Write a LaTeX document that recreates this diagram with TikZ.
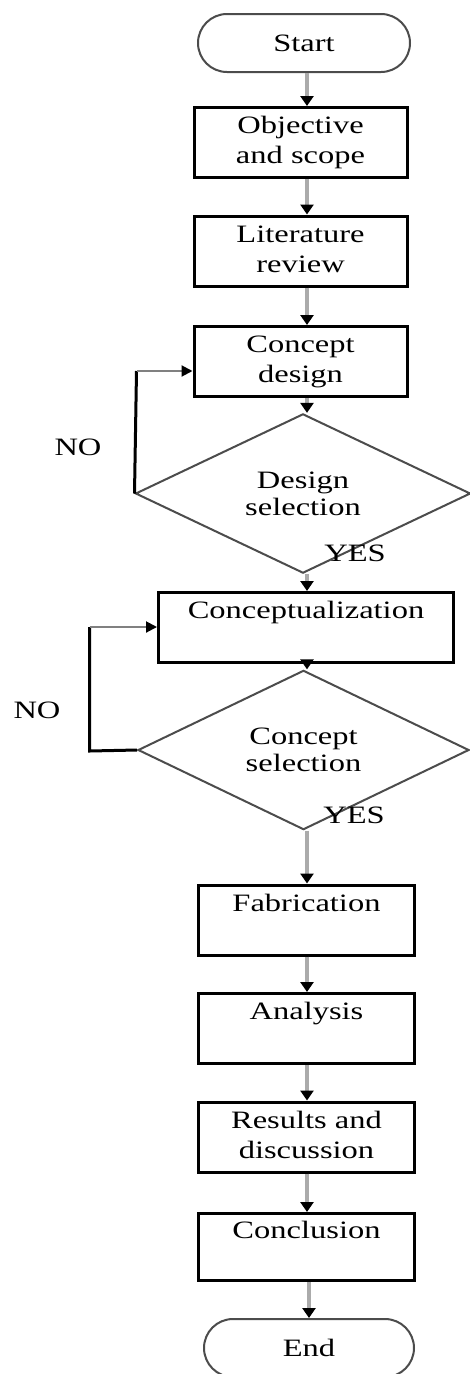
\documentclass[tikz,border=0pt]{standalone}
\usepackage{fontspec}
\setmainfont{Liberation Serif}[FakeStretch=1.3]
\usetikzlibrary{shapes.geometric,arrows.meta}
\tikzset{
  txt/.style={font=\fontsize{25}{30}\selectfont, text=black, inner sep=0pt, align=center},
  stepbox/.style={txt, draw=black, line width=3pt, rectangle, minimum width=213pt, minimum height=70pt},
  term/.style={txt, draw=black!70, line width=2pt, rectangle, rounded corners=29pt, minimum width=212pt, minimum height=58pt},
  decide/.style={txt, font=\fontsize{25}{27}\selectfont, draw=black!70, line width=2pt, diamond, minimum width=335pt, minimum height=117pt},
  flow/.style={draw=black!33, line width=3.5pt, -{Triangle[width=13pt,length=10pt,color=black]}},
  loopv/.style={draw=black, line width=3pt},
  looph/.style={draw=black!50, line width=2pt, -{Triangle[width=11pt,length=11pt,color=black]}},
  lbl/.style={font=\fontsize{25}{30}\selectfont, text=black, inner sep=0pt}
}
\begin{document}
\begin{tikzpicture}[x=1pt,y=-1pt]
\clip (0,0) rectangle (470,1374);
\fill[white] (0,0) rectangle (470,1374);
\coordinate (spine) at (307,0);
\node[term] (start) at (304,43) {Start};
\node[stepbox] (obj) at (300.5,142.5) {\strut Objective\\\strut and scope};
\node[stepbox] (lit) at (300.5,251) {\strut Literature\\\strut review};
\node[stepbox] (cd) at (300.5,361.5) {\strut Concept\\\strut design};
\node[decide] (d1) at (303,493.5) {Design\\selection};
\node[stepbox, minimum width=295pt] (cz) at (306,627.5) {\strut Conceptualization\\\strut};
\node[decide, minimum width=331pt, minimum height=116pt] (d2) at (303.5,750) {Concept\\selection};
\node[stepbox, minimum width=216pt] (fab) at (306.5,920) {\strut Fabrication\\\strut};
\node[stepbox, minimum width=216pt] (ana) at (306.5,1028.5) {\strut Analysis\\\strut};
\node[stepbox, minimum width=216pt] (res) at (306.5,1137) {\strut Results and\\\strut discussion};
\node[stepbox, minimum width=216pt, minimum height=67pt] (con) at (306.5,1247) {\strut Conclusion\\\strut};
\node[term, minimum width=210pt] (end) at (309,1348) {End};

\node[lbl] (no1) at (78,447) {NO};
\node[lbl] (no2) at (37,710) {NO};
\node[lbl] (yes1) at (355,553) {YES};
\node[lbl] (yes2) at (354,815) {YES};

\draw[flow] (start.south -| spine) -- (obj.north -| spine);
\draw[flow] (obj.south -| spine) -- (lit.north -| spine);
\draw[flow] (lit.south -| spine) -- (cd.north -| spine);
\draw[flow] (cd.south -| spine) -- (d1.north -| spine);
\draw[flow] (d1.south -| spine) -- (cz.north -| spine);
\draw[flow] (cz.south -| spine) -- (d2.north -| spine);
\draw[flow] (d2.south -| spine) -- (fab.north -| spine);
\draw[flow] (fab.south -| spine) -- (ana.north -| spine);
\draw[flow] (ana.south -| spine) -- (res.north -| spine);
\draw[flow] (res.south -| spine) -- (con.north -| spine);
\draw[flow] (con.south -| end) -- (end.north);

\coordinate (l1) at (136.5,371);
\draw[loopv] (d1.west) -- (l1);
\draw[looph] (l1) -- (cd.west |- l1);
\coordinate (l2b) at (89.5,751);
\coordinate (l2t) at (89.5,627);
\draw[loopv] (d2.west) -- (l2b) -- (l2t);
\draw[looph] (l2t) -- (cz.west |- l2t);
\end{tikzpicture}
\end{document}
